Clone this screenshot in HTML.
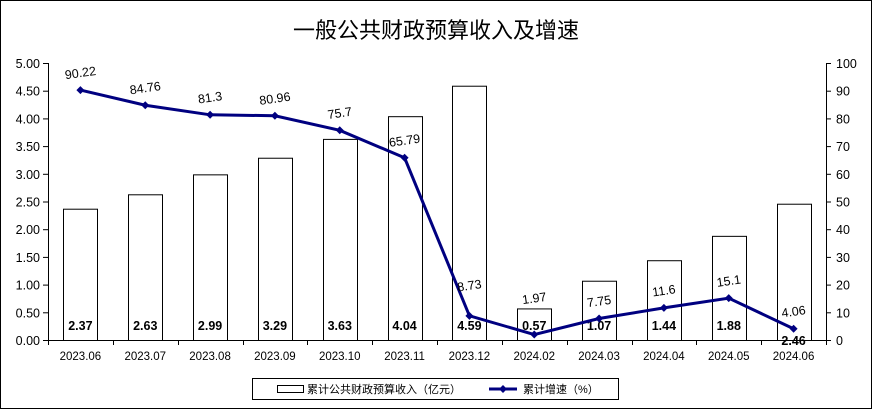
<!DOCTYPE html>
<html><head><meta charset="utf-8"><style>
html,body{margin:0;padding:0;background:#fff}
svg{display:block}
text{font-family:"Liberation Sans","Noto Sans CJK SC",sans-serif}
</style></head><body>
<svg width="872" height="409" viewBox="0 0 872 409" xmlns="http://www.w3.org/2000/svg">
<rect x="0.5" y="0.5" width="871" height="408" fill="#fff" stroke="#000"/>
<text x="436" y="38" font-size="22" text-anchor="middle" font-family="'Noto Serif CJK SC','Noto Sans CJK SC',serif">一般公共财政预算收入及增速</text>
<g stroke="#000" stroke-width="1">
<line x1="48.5" y1="63" x2="48.5" y2="340"/>
<line x1="826.5" y1="63" x2="826.5" y2="340"/>
<line x1="48" y1="340.5" x2="827" y2="340.5"/>
</g>
<g id="ticks" stroke="#000"></g>
<g id="labs" font-size="12.5"></g>
<g id="bars"></g>
<g id="line"></g>
<rect x="252.5" y="378.5" width="366" height="21" fill="#fff" stroke="#000"/>
<rect x="277.5" y="385.5" width="26" height="7" fill="#fff" stroke="#000"/>
<text x="307" y="393" font-size="11">累计公共财政预算收入（亿元）</text>
<line x1="489" y1="389" x2="517" y2="389" stroke="#000080" stroke-width="3"/>
<path d="M503 385 L507 389 L503 393 L499 389Z" fill="#000080"/>
<text x="523" y="393" font-size="11">累计增速（%）</text>
</svg>
<script>
(function(){
const ns="http://www.w3.org/2000/svg";
function el(p,t,a,txt){const e=document.createElementNS(ns,t);for(const k in a)e.setAttribute(k,a[k]);if(txt!=null)e.textContent=txt;document.getElementById(p).appendChild(e);return e;}
const T=63,B=340,L=48,R=826,n=12,w=(R-L)/n;
for(let i=0;i<=10;i++){const y=B-(B-T)*i/10;
el('ticks','line',{x1:L-5,y1:y+.5,x2:L,y2:y+.5});
el('ticks','line',{x1:R,y1:y+.5,x2:R+5,y2:y+.5});
el('labs','text',{x:L-8,y:y+5,'text-anchor':'end'},(i*0.5).toFixed(2));
el('labs','text',{x:R+10,y:y+5},String(i*10));}
for(let i=0;i<=n;i++){const x=Math.round(L+w*i)+.5;el('ticks','line',{x1:x,y1:B,x2:x,y2:B+5});}
const cats=["2023.06","2023.07","2023.08","2023.09","2023.10","2023.11","2023.12","2024.02","2024.03","2024.04","2024.05","2024.06"];
const bars=[2.37,2.63,2.99,3.29,3.63,4.04,4.59,0.57,1.07,1.44,1.88,2.46];
const gr=[90.22,84.76,81.3,80.96,75.7,65.79,8.73,1.97,7.75,11.6,15.1,4.06];
const off=[13,13,13,13,13,13,26,32,13,13,13,13];
const pts=[];
cats.forEach((c,i)=>{const cx=L+w*(i+.5);
el('labs','text',{x:cx,y:360,'text-anchor':'middle','font-size':'11.5'},c);
const h=bars[i]/5*(B-T);
el('bars','rect',{x:Math.round(cx-17)+.5,y:B-h+.5,width:34,height:h,fill:'#fff',stroke:'#000'});
const by=(i==11)?345:330;
el('bars','text',{x:cx,y:by,'text-anchor':'middle','font-size':'12.5','font-weight':'bold'},bars[i].toFixed(2));
const py=B-gr[i]/100*(B-T);pts.push([cx,py]);});
el('line','polyline',{points:pts.map(p=>p.join(',')).join(' '),fill:'none',stroke:'#000080','stroke-width':3});
pts.forEach((p,i)=>{el('line','path',{d:`M${p[0]} ${p[1]-4}L${p[0]+4} ${p[1]}L${p[0]} ${p[1]+4}L${p[0]-4} ${p[1]}Z`,fill:'#000080'});
const ty=p[1]-off[i];
el('line','text',{x:p[0],y:ty,'text-anchor':'middle','font-size':'12.5',transform:`rotate(-8 ${p[0]} ${ty-4})`},String(gr[i]));});
})();
</script>
</body></html>
